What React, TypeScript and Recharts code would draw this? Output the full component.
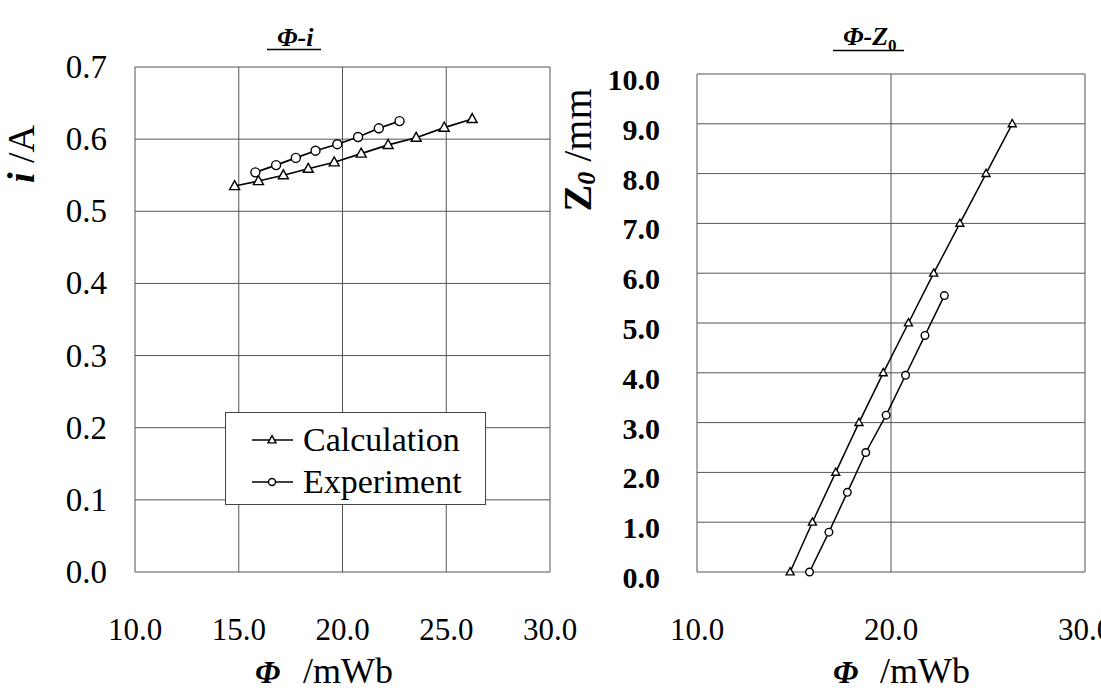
import { ScatterChart, Scatter, XAxis, YAxis, CartesianGrid, Legend } from 'recharts';

const SERIF = "'Liberation Serif', 'Times New Roman', Times, serif";

// Φ (mWb) of each measured / calculated point
const calcPhi = [14.8, 15.95, 17.15, 18.35, 19.6, 20.9, 22.2, 23.55, 24.9, 26.25];
const calcCurrent = [0.535, 0.542, 0.55, 0.559, 0.568, 0.58, 0.592, 0.602, 0.616, 0.628];
const calcZ0 = [0, 1, 2, 3, 4, 5, 6, 7, 8, 9];

const expPhi = [15.8, 16.8, 17.75, 18.7, 19.75, 20.75, 21.75, 22.75];
const expCurrent = [0.554, 0.564, 0.574, 0.584, 0.593, 0.603, 0.615, 0.625];
const expZ0 = [0, 0.8, 1.6, 2.4, 3.15, 3.95, 4.75, 5.55];

const seriesNames = ['Calculation', 'Experiment'];

// axis ticks
const phiTicksLeft = [10, 15, 20, 25, 30];
const phiTicksRight = [10, 20, 30];
const currentTicks = [0, 0.1, 0.2, 0.3, 0.4, 0.5, 0.6, 0.7];
const z0Ticks = [0, 1, 2, 3, 4, 5, 6, 7, 8, 9, 10];

const calcLeft = calcPhi.map((phi, k) => ({ phi, val: calcCurrent[k] }));
const expLeft = expPhi.map((phi, k) => ({ phi, val: expCurrent[k] }));
const calcRight = calcPhi.map((phi, k) => ({ phi, val: calcZ0[k] }));
const expRight = expPhi.map((phi, k) => ({ phi, val: expZ0[k] }));

const Triangle = ({ cx, cy, size }: { cx: number; cy: number; size: number }) => {
  const h = size * 0.9;
  return (
    <path
      d={`M${cx},${cy - h * 0.6} L${cx + size / 2},${cy + h * 0.4} L${cx - size / 2},${cy + h * 0.4} Z`}
      fill="#fff"
      stroke="#000"
      strokeWidth={1.4}
    />
  );
};

const Ring = ({ cx, cy, r }: { cx: number; cy: number; r: number }) => (
  <circle cx={cx} cy={cy} r={r} fill="#fff" stroke="#000" strokeWidth={1.4} />
);

const XTick = ({ x, y, payload }: any) => (
  <text x={x} y={y + 68} textAnchor="middle" fontSize={31} fontFamily={SERIF} fill="#000">
    {Number(payload.value).toFixed(1)}
  </text>
);

const LeftYTick = ({ x, y, payload }: any) => (
  <text x={x - 28} y={y + 11} textAnchor="end" fontSize={33} fontFamily={SERIF} fill="#000">
    {Number(payload.value).toFixed(1)}
  </text>
);

const RightYTick = ({ x, y, payload }: any) => (
  <text x={x - 37} y={y + 16} textAnchor="end" fontSize={30} fontWeight="bold" fontFamily={SERIF} fill="#000">
    {Number(payload.value).toFixed(1)}
  </text>
);

const LegendBox = ({ payload }: any) => (
  <div
    style={{
      border: '1px solid #444',
      background: '#fff',
      padding: '6px 0 1px 26px',
      fontFamily: SERIF,
      fontSize: 34,
      lineHeight: '42px',
      width: 233,
    }}
  >
    {(payload || []).map((entry: any) => (
      <div key={entry.value} style={{ display: 'flex', alignItems: 'center', height: 42 }}>
        <svg width={42} height={20} style={{ flex: 'none' }}>
          <line x1={0} y1={10} x2={41} y2={10} stroke="#000" strokeWidth={1.5} />
          {entry.value === seriesNames[0] ? <Triangle cx={20} cy={10} size={8} /> : <Ring cx={20} cy={10} r={3.5} />}
        </svg>
        <span style={{ marginLeft: 9 }}>{entry.value}</span>
      </div>
    ))}
  </div>
);

const gridColor = '#555';

export default function App() {
  return (
    <div style={{ position: 'absolute', left: 0, top: 0, width: 1101, height: 691, overflow: 'hidden', background: '#fff' }}>
      <div style={{ position: 'absolute', left: 0, top: 0 }}>
        <ScatterChart width={600} height={691} margin={{ top: 67, right: 50, bottom: 0, left: 0 }}>
          <CartesianGrid stroke={gridColor} strokeWidth={1} />
          <XAxis
            type="number"
            dataKey="phi"
            domain={[10, 30]}
            ticks={phiTicksLeft}
            interval={0}
            height={119}
            tickSize={0}
            tickMargin={0}
            axisLine={false}
            tickLine={false}
            tick={XTick}
          />
          <YAxis
            type="number"
            dataKey="val"
            domain={[0, 0.7]}
            ticks={currentTicks}
            interval={0}
            width={135}
            tickSize={0}
            tickMargin={0}
            axisLine={false}
            tickLine={false}
            tick={LeftYTick}
          />
          <Legend
            layout="vertical"
            align="center"
            verticalAlign="middle"
            content={LegendBox}
            wrapperStyle={{ left: 225, top: 412, width: 261 }}
          />
          <Scatter
            name={seriesNames[0]}
            data={calcLeft}
            line={{ stroke: '#000', strokeWidth: 1.7 }}
            shape={(p: any) => <Triangle cx={p.cx} cy={p.cy} size={10} />}
            isAnimationActive={false}
          />
          <Scatter
            name={seriesNames[1]}
            data={expLeft}
            line={{ stroke: '#000', strokeWidth: 1.7 }}
            shape={(p: any) => <Ring cx={p.cx} cy={p.cy} r={4.5} />}
            isAnimationActive={false}
          />
        </ScatterChart>
      </div>

      <div style={{ position: 'absolute', left: 560, top: 0 }}>
        <ScatterChart width={560} height={691} margin={{ top: 74, right: 35, bottom: 0, left: 0 }}>
          <CartesianGrid stroke={gridColor} strokeWidth={1} />
          <XAxis
            type="number"
            dataKey="phi"
            domain={[10, 30]}
            ticks={phiTicksRight}
            interval={0}
            height={119}
            tickSize={0}
            tickMargin={0}
            axisLine={false}
            tickLine={false}
            tick={XTick}
          />
          <YAxis
            type="number"
            dataKey="val"
            domain={[0, 10]}
            ticks={z0Ticks}
            interval={0}
            width={137}
            tickSize={0}
            tickMargin={0}
            axisLine={false}
            tickLine={false}
            tick={RightYTick}
          />
          <Scatter
            name={seriesNames[0]}
            data={calcRight}
            line={{ stroke: '#000', strokeWidth: 1.5 }}
            shape={(p: any) => <Triangle cx={p.cx} cy={p.cy} size={8} />}
            isAnimationActive={false}
          />
          <Scatter
            name={seriesNames[1]}
            data={expRight}
            line={{ stroke: '#000', strokeWidth: 1.5 }}
            shape={(p: any) => <Ring cx={p.cx} cy={p.cy} r={3.8} />}
            isAnimationActive={false}
          />
        </ScatterChart>
      </div>

      <svg width={1101} height={691} style={{ position: 'absolute', left: 0, top: 0, pointerEvents: 'none' }}>
        <g fontFamily={SERIF} fill="#000" style={{ whiteSpace: 'pre' }}>
          {/* titles */}
          <text x={277} y={46} fontSize={26} fontWeight="bold" fontStyle="italic">Φ-i</text>
          <line x1={267} y1={49.5} x2={321} y2={49.5} stroke="#000" strokeWidth={1.6} />
          <text x={843} y={45} fontSize={26} fontWeight="bold">
            <tspan fontStyle="italic">Φ-Z</tspan>
            <tspan fontSize={17} dy={6}>0</tspan>
          </text>
          <line x1={833} y1={50.5} x2={904} y2={50.5} stroke="#000" strokeWidth={1.6} />

          {/* x axis titles */}
          <text x={255} y={683} fontSize={32} fontWeight="bold" fontStyle="italic">Φ</text>
          <text x={303} y={683} fontSize={36}>/mWb</text>
          <text x={833} y={683} fontSize={32} fontWeight="bold" fontStyle="italic">Φ</text>
          <text x={880} y={683} fontSize={36}>/mWb</text>

          {/* y axis titles */}
          <text transform="translate(34,154) rotate(-90)" textAnchor="middle" fontSize={38}>
            <tspan fontWeight="bold" fontStyle="italic">i</tspan>
            <tspan>  /A</tspan>
          </text>
          <text transform="translate(591,150) rotate(-90)" textAnchor="middle" fontSize={40}>
            <tspan fontWeight="bold">Z</tspan>
            <tspan fontWeight="bold" fontStyle="italic" fontSize={26} dy={4}>0</tspan>
            <tspan dy={-4}>  /mm</tspan>
          </text>
        </g>
      </svg>
    </div>
  );
}
